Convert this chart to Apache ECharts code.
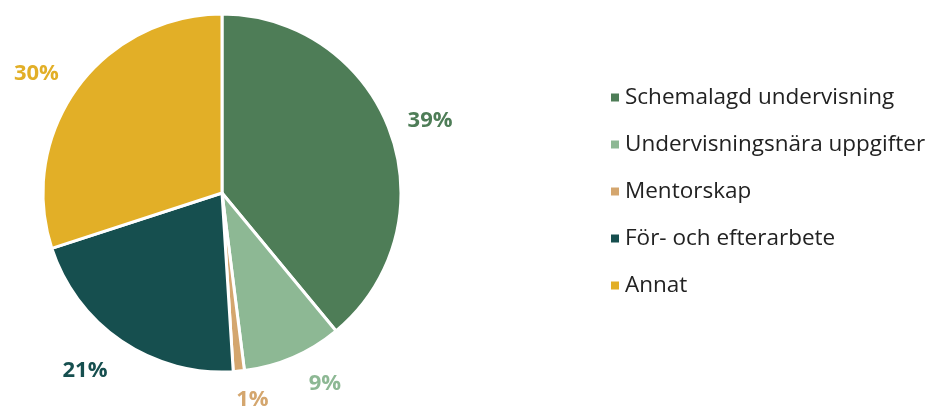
<!DOCTYPE html>
<html>
<head>
<meta charset="utf-8">
<script src="https://cdn.jsdelivr.net/npm/echarts@6/dist/echarts.min.js"></script>
<style>
  html, body { margin: 0; padding: 0; background: #fff; }
  #chart { width: 928px; height: 408px; }
</style>
</head>
<body>
<div id="chart"></div>
<script>
const categories = [
  'Schemalagd undervisning',
  'Undervisningsnära uppgifter',
  'Mentorskap',
  'För- och efterarbete',
  'Annat'
];
const shares = [39, 9, 1, 21, 30];
const colors = ['#4e7d57', '#8db894', '#d4a66e', '#164f4f', '#e2af27'];

// small nudges so the labels sit where the original put them
const labelNudge = [[-5, -7], [-11, 14], [-13, 6], [3, 18], [2, -6]];

const chart = echarts.init(document.getElementById('chart'));

chart.setOption({
  animation: false,
  color: colors,
  legend: {
    orient: 'vertical',
    left: 604,
    top: 81,
    icon: 'rect',
    itemWidth: 10,
    itemHeight: 10,
    itemGap: 24,
    textStyle: {
      fontFamily: 'Open Sans',
      fontSize: 22.5,
      color: '#222',
      lineHeight: 22
    },
    data: categories
  },
  series: [{
    type: 'pie',
    center: [222, 193],
    radius: 179,
    startAngle: 90,
    clockwise: true,
    itemStyle: {
      borderColor: '#fff',
      borderWidth: 3
    },
    label: {
      show: true,
      position: 'outside',
      formatter: '{c}%',
      fontFamily: 'Open Sans',
      fontSize: 22,
      fontWeight: 'bold',
      color: 'inherit',
      overflow: 'none'
    },
    labelLine: { show: false, length: 14, length2: 4 },
    labelLayout: (p) => ({
      dx: labelNudge[p.dataIndex][0],
      dy: labelNudge[p.dataIndex][1]
    }),
    data: categories.map((name, i) => ({
      name,
      value: shares[i],
      label: { color: colors[i] }
    }))
  }]
});
</script>
</body>
</html>
